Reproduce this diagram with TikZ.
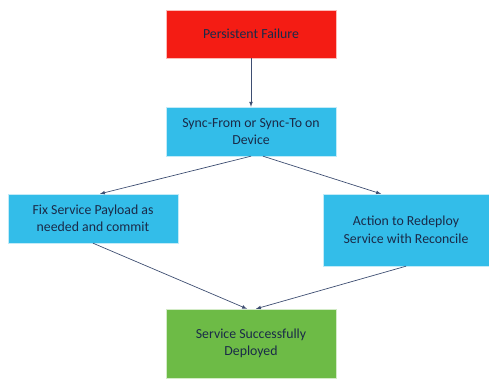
\documentclass[tikz,border=0pt]{standalone}
\usepackage{fontspec}
\setmainfont{Carlito}
\usetikzlibrary{arrows}
\definecolor{failred}{HTML}{F41C14}
\definecolor{stepblue}{HTML}{33BDE9}
\definecolor{okgreen}{HTML}{6DBB46}
\definecolor{inkblue}{HTML}{1A2A48}
\definecolor{linkgray}{HTML}{3E4E72}

\begin{document}
\begin{tikzpicture}[x=1pt,y=1pt,
    box/.style={draw=white!70!#1, fill=#1, text=inkblue, align=center,
      font=\fontsize{13.8}{17.5}\selectfont, inner sep=0pt},
    link/.style={draw=linkgray, line width=0.7pt, -latex}]
        \useasboundingbox (0,0) rectangle (489,379);
        %
        \node [box=failred, minimum width=170, minimum height=48] (fail) at (251,345) {Persistent Failure};
        \node [box=stepblue, minimum width=170, minimum height=49] (sync) at (251,247.5) {Sync-From or Sync-To on\\Device};
        %
        \node [box=stepblue, minimum width=170, minimum height=49] (fix) at (93,160.5) {Fix Service Payload as\\needed and commit};
        \node [box=stepblue, minimum width=166, minimum height=72] (redeploy) at (406,149) {Action to Redeploy\\Service with Reconcile};
        %
        \node [box=okgreen, minimum width=170, minimum height=69] (done) at (251,35.5) {Service Successfully\\Deployed};
        %
        \draw [link] (fail) -- (sync);
        \draw [link] (sync.south) -- ([xshift=7]fix.north);
        \draw [link] ([xshift=12]sync.south) -- ([xshift=-25]redeploy.north);
        \draw [link] (fix.south) -- ([xshift=-4]done.north);
        \draw [link] (redeploy.south) -- ([xshift=5]done.north);
      \end{tikzpicture}
\end{document}
